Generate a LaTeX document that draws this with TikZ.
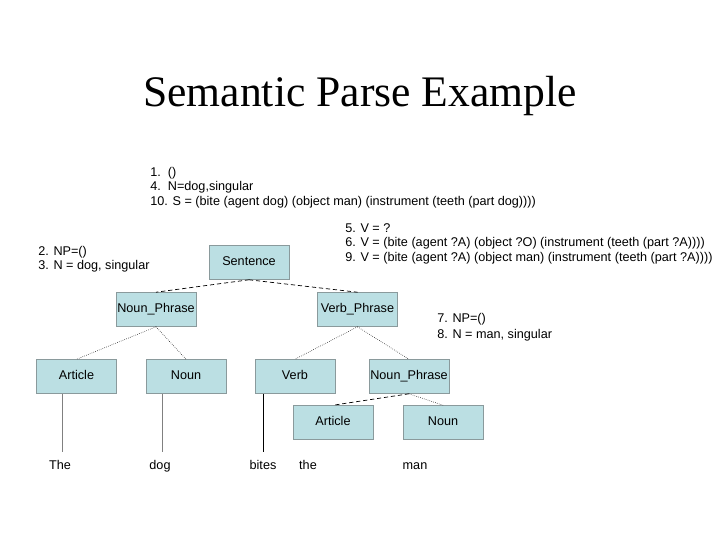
\documentclass[tikz,border=0pt]{standalone}
\usepackage{fontspec}
\setmainfont{Liberation Sans}
\newfontfamily\titlefont{Liberation Serif}
\usepackage{xcolor}
\usetikzlibrary{positioning}
\definecolor{boxfill}{HTML}{BBDFE3}
\definecolor{boxline}{HTML}{8A9A9C}

\begin{document}
\begin{tikzpicture}[
        x=0.025cm, y=-0.025cm,
        cat/.style={rectangle, fill=boxfill, draw=boxline, line width=0.4pt,
                    minimum width=2cm, minimum height=0.85cm, inner sep=0pt,
                    text height=6.6pt, text depth=2.8pt,
                    font=\fontsize{9}{10}\selectfont},
        note/.style={anchor=north west, align=left, inner sep=0pt,
                     font=\fontsize{9}{10.3}\selectfont},
        word/.style={anchor=base, inner sep=1pt, font=\fontsize{9}{10}\selectfont},
        branch/.style={densely dotted, line width=0.4pt},
        split/.style={densely dashed, line width=0.5pt}
      ]
        \useasboundingbox (0,0) rectangle (720,540);
        \node[font=\titlefont\fontsize{31}{33}\selectfont] (title) at (360,96) {Semantic Parse Example};

        % tree
        \node[cat] (sent) at (249,262.5) {Sentence};
        \node[cat] (np1) at (156,309.5) {Noun\_Phrase};
        \node[cat] (vp) at (357.5,309.5) {Verb\_Phrase};
        \node[cat] (art1) at (76.5,376.5) {Article};
        \node[cat] (noun1) at (186,376.5) {Noun};
        \node[cat] (verb) at (295,376.5) {Verb};
        \node[cat] (np2) at (409,376.5) {Noun\_Phrase};
        \node[cat] (art2) at (333,422.5) {Article};
        \node[cat] (noun2) at (443,422.5) {Noun};

        % words
        \node[word] (w1) at (60,469) {The};
        \node[word] (w2) at (160,469) {dog};
        \node[word] (w3) at (263,469) {bites};
        \node[word] (w4) at (308,469) {the};
        \node[word] (w5) at (415,469) {man};
        \coordinate (f1) at (62,452);
        \coordinate (f2) at (162,452);
        \coordinate (f3) at (263,452);

        % steps
        \node[note] (n1) at (150,167) {1.\ \ ()\\4.\ \ N=dog,singular\\10. S = (bite (agent dog) (object man) (instrument (teeth (part dog))))};
        \node[note] (n2) at (345,223) {5. V = ?\\6. V = (bite (agent ?A) (object ?O) (instrument (teeth (part ?A))))\\9. V = (bite (agent ?A) (object man) (instrument (teeth (part ?A))))};
        \node[note] (n3) at (38,246) {2. NP=()\\3. N = dog, singular};
        \node[note] (n4) at (437,313) {7. NP=()\\[1.2pt]8. N = man, singular};

        \draw[split] (sent.south) -- (np1.north);
        \draw[split] (sent.south) -- (vp.north);
        \draw[branch] (np1.south) -- (art1.north);
        \draw[branch] (np1.south) -- (noun1.north);
        \draw[branch] (vp.south) -- (verb.north);
        \draw[branch] (vp.south) -- (np2.north);
        \draw[split] (np2.south) -- (art2.north);
        \draw[branch] (np2.south) -- (noun2.north);

        \draw[gray, line width=0.6pt] (art1.south -| f1) -- (f1);
        \draw[gray, line width=0.6pt] (noun1.south -| f2) -- (f2);
        \draw[black, line width=0.6pt] (verb.south -| f3) -- (f3);
      \end{tikzpicture}
\end{document}
